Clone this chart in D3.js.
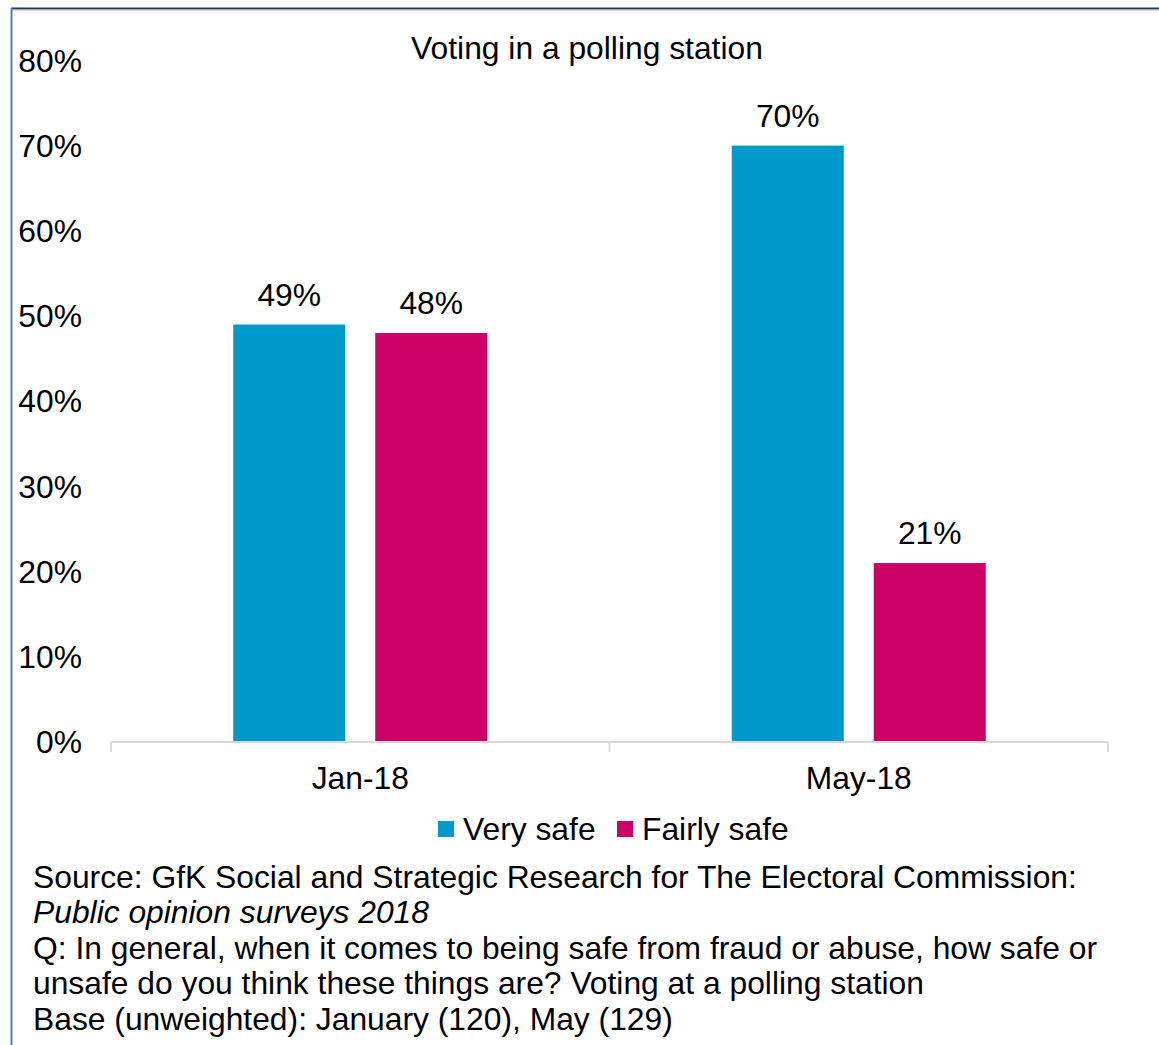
<!DOCTYPE html>
<html>
<head>
<meta charset="utf-8">
<script src="https://cdn.jsdelivr.net/npm/d3@7"></script>
<style>
  body { margin: 0; background: #fff; }
  svg text { font-family: "Liberation Sans", Arial, sans-serif; fill: #000; }
</style>
</head>
<body>
<script>
// data
var periods = ['Jan-18', 'May-18'];
var seriesNames = ['Very safe', 'Fairly safe'];
var verySafe = [49, 70];
var fairlySafe = [48, 21];
var yTicks = [0, 10, 20, 30, 40, 50, 60, 70, 80];
var footer = [
  { text: 'Source: GfK Social and Strategic Research for The Electoral Commission:', italic: false },
  { text: 'Public opinion surveys 2018', italic: true },
  { text: 'Q: In general, when it comes to being safe from fraud or abuse, how safe or', italic: false },
  { text: 'unsafe do you think these things are? Voting at a polling station', italic: false },
  { text: 'Base (unweighted): January (120), May (129)', italic: false }
];

var colors = ['#0099cc', '#cc0066'];
var W = 1159, H = 1045;

var svg = d3.select('body').append('svg')
    .attr('width', W)
    .attr('height', H);

// frame lines (top + left)
svg.append('line').attr('x1', 11).attr('x2', W).attr('y1', 8.5).attr('y2', 8.5)
  .attr('stroke', '#1f3864').attr('stroke-width', 2);
svg.append('line').attr('x1', 11).attr('x2', W).attr('y1', 10).attr('y2', 10)
  .attr('stroke', '#a9b9cf').attr('stroke-width', 1);
svg.append('line').attr('x1', 11.5).attr('x2', 11.5).attr('y1', 8).attr('y2', H)
  .attr('stroke', '#5b7ea6').attr('stroke-width', 2);

var x0 = d3.scaleBand()
    .domain(periods)
    .range([111, 1108]);

var x1 = d3.scaleBand()
    .domain(seriesNames)
    .range([0, 254])
    .paddingInner(30 / 142);

var y = d3.scaleLinear()
    .domain([0, 80])
    .range([742, 60.4]);

var fontSize = 31.8;

// y tick labels
svg.append('g').selectAll('text')
  .data(yTicks)
  .join('text')
    .attr('x', 82)
    .attr('y', function(d) { return y(d); })
    .attr('dy', '0.35em')
    .attr('text-anchor', 'end')
    .style('font-size', fontSize + 'px')
    .text(function(d) { return d + '%'; });

// bars
var groups = svg.append('g').selectAll('g')
  .data(periods)
  .join('g')
    .attr('transform', function(d) {
      return 'translate(' + (x0(d) + (x0.bandwidth() - 254) / 2) + ',0)';
    });

groups.selectAll('rect')
  .data(function(d, i) {
    return [
      { key: seriesNames[0], value: verySafe[i] },
      { key: seriesNames[1], value: fairlySafe[i] }
    ];
  })
  .join('rect')
    .attr('x', function(d) { return x1(d.key); })
    .attr('y', function(d) { return y(d.value); })
    .attr('width', x1.bandwidth())
    .attr('height', function(d) { return y(0) - y(d.value); })
    .attr('fill', function(d, i) { return colors[i]; });

groups.selectAll('text')
  .data(function(d, i) {
    return [
      { key: seriesNames[0], value: verySafe[i] },
      { key: seriesNames[1], value: fairlySafe[i] }
    ];
  })
  .join('text')
    .attr('x', function(d) { return x1(d.key) + x1.bandwidth() / 2; })
    .attr('y', function(d) { return y(d.value) - 19; })
    .attr('text-anchor', 'middle')
    .style('font-size', fontSize + 'px')
    .text(function(d) { return d.value + '%'; });

// x axis
var xAxis = d3.axisBottom(x0).tickSize(0).tickPadding(0);
var gx = svg.append('g')
    .attr('transform', 'translate(0,' + y(0) + ')')
    .call(xAxis);
gx.select('.domain').remove();
gx.selectAll('text').remove();

var tickPos = [x0.range()[0]].concat(periods.map(function(d) { return x0(d) + x0.bandwidth(); }));
gx.append('path')
  .attr('d', 'M' + tickPos[0] + ',0H' + tickPos[tickPos.length - 1])
  .attr('stroke', '#d9d9d9').attr('stroke-width', 2).attr('fill', 'none');
gx.selectAll('.tk')
  .data(tickPos)
  .join('line')
    .attr('class', 'tk')
    .attr('x1', function(d) { return d; })
    .attr('x2', function(d) { return d; })
    .attr('y1', 0).attr('y2', 10)
    .attr('stroke', '#d9d9d9').attr('stroke-width', 2);

svg.append('g').selectAll('text')
  .data(periods)
  .join('text')
    .attr('x', function(d) { return x0(d) + x0.bandwidth() / 2; })
    .attr('y', 789)
    .attr('text-anchor', 'middle')
    .style('font-size', fontSize + 'px')
    .text(function(d) { return d; });

// title
svg.append('text')
  .attr('x', 587)
  .attr('y', 59)
  .attr('text-anchor', 'middle')
  .style('font-size', fontSize + 'px')
  .text('Voting in a polling station');

// legend
var legend = svg.append('g');
var legendX = [438, 617];
seriesNames.forEach(function(name, i) {
  legend.append('rect')
    .attr('x', legendX[i]).attr('y', 821)
    .attr('width', 16).attr('height', 16)
    .attr('fill', colors[i]);
  legend.append('text')
    .attr('x', legendX[i] + 25).attr('y', 840)
    .style('font-size', fontSize + 'px')
    .text(name);
});

// footer notes
svg.append('g').selectAll('text')
  .data(footer)
  .join('text')
    .attr('x', 33)
    .attr('y', function(d, i) { return 888 + i * 35.4; })
    .style('font-size', fontSize + 'px')
    .style('font-style', function(d) { return d.italic ? 'italic' : 'normal'; })
    .text(function(d) { return d.text; });
</script>
</body>
</html>
